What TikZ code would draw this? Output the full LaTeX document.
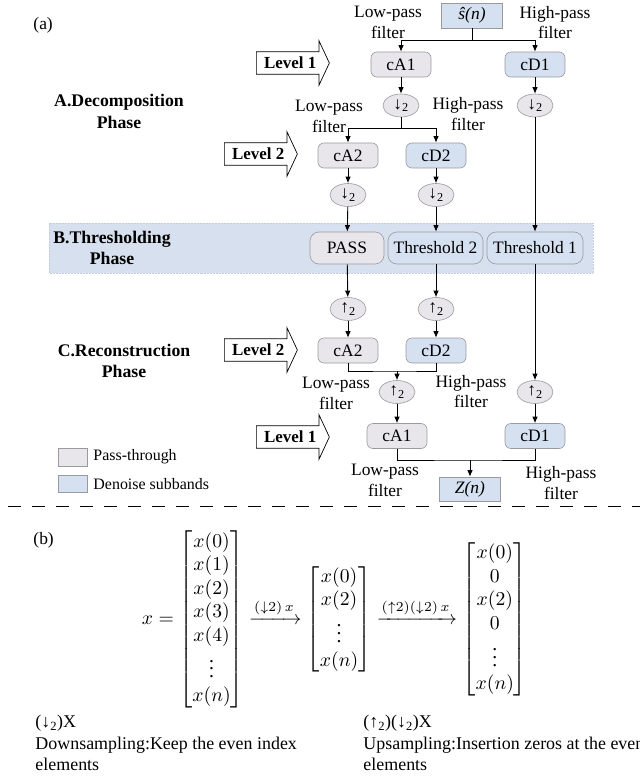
\documentclass[tikz,border=0pt]{standalone}
\usepackage{amsmath}
\usepackage{fontspec}
\setmainfont{Liberation Serif}
\usetikzlibrary{arrows.meta}
\usetikzlibrary{shapes}

\definecolor{passGrey}{HTML}{E8E6EB}
\definecolor{denoiseBlue}{HTML}{D5E0F0}
\definecolor{bandBlue}{HTML}{D6E0EE}
\definecolor{edgeGrey}{HTML}{9A9A9E}

\begin{document}
\begin{tikzpicture}[x=1bp, y=-1bp, font=\fontsize{17.5}{21}\selectfont, >={Latex[length=6.5bp,width=5.5bp]}, line width=0.9bp]
	\tikzstyle{passStyle}=[shape=rectangle, rounded corners=6bp, draw=edgeGrey, fill=passGrey, line width=0.6bp, minimum width=60bp, minimum height=25bp, inner sep=0pt]
	\tikzstyle{denoiseStyle}=[passStyle, fill=denoiseBlue]
	\tikzstyle{thresholdStyle}=[passStyle, rounded corners=9bp, minimum height=32bp]
	\tikzstyle{signalStyle}=[passStyle, sharp corners, fill=denoiseBlue, minimum width=61bp, minimum height=25bp]
	\tikzstyle{sampleStyle}=[shape=ellipse, draw=edgeGrey, fill=passGrey, line width=0.6bp, minimum width=36bp, minimum height=23bp, inner sep=0pt]
	\tikzstyle{levelStyle}=[shape=single arrow, draw, fill=white, line width=0.7bp, anchor=tail, font=\bfseries\fontsize{17}{20}\selectfont, minimum height=73bp, single arrow head extend=11bp, single arrow tip angle=130, inner xsep=2bp, inner ysep=5bp]
	\tikzstyle{filterStyle}=[align=center, inner sep=0pt]
	\tikzstyle{phaseStyle}=[align=center, inner sep=0pt, font=\bfseries\fontsize{17.8}{21.5}\selectfont]
	\tikzstyle{keyStyle}=[anchor=west, inner sep=0pt, font=\fontsize{16}{19}\selectfont]
	\tikzstyle{noteStyle}=[anchor=north west, align=left, inner sep=0pt, font=\fontsize{18}{21.5}\selectfont]
	\useasboundingbox (0,0) rectangle (640,776);
	\fill[bandBlue] (49,223) rectangle (593,273);
	\draw[line width=0.5bp, draw=bandBlue!80!gray, densely dotted] (49,223) rectangle (593,273);
	\node[anchor=west, inner sep=0pt] (tagA) at (33,25) {(a)};
	\node[signalStyle] (sIn) at (472,15.5) {\textit{ŝ(n)}};
	\node[filterStyle] (lowA) at (388,22.5) {Low-pass\\filter};
	\node[filterStyle] (highA) at (555,22.5) {High-pass\\filter};
	\node[levelStyle] (levA) at (256,63) {Level 1};
	\node[passStyle] (dA1) at (401,64.5) {cA1};
	\node[denoiseStyle] (dD1) at (535,64.5) {cD1};
	\node[phaseStyle] (phaseA) at (119,111.5) {A.Decomposition\\Phase};
	\node[sampleStyle] (dn1) at (401,105.5) {↓\textsubscript{2}};
	\node[sampleStyle] (dn2) at (535,105.5) {↓\textsubscript{2}};
	\node[filterStyle] (lowB) at (329,116) {Low-pass\\filter};
	\node[filterStyle] (highB) at (468,114) {High-pass\\filter};
	\node[levelStyle] (levB) at (224,154) {Level 2};
	\node[passStyle] (dA2) at (348,155.5) {cA2};
	\node[denoiseStyle] (dD2) at (436,155.5) {cD2};
	\node[sampleStyle] (dn3) at (348,195) {↓\textsubscript{2}};
	\node[sampleStyle] (dn4) at (436,195) {↓\textsubscript{2}};
	\node[phaseStyle] (phaseB) at (112,248) {B.Thresholding\\Phase};
	\node[thresholdStyle, minimum width=74bp] (pass) at (347,248) {PASS};
	\node[thresholdStyle, fill=denoiseBlue, minimum width=95bp] (thr2) at (435.5,248) {Threshold 2};
	\node[thresholdStyle, fill=denoiseBlue, minimum width=96bp] (thr1) at (535,248) {Threshold 1};
	\node[sampleStyle] (up1) at (348,309) {↑\textsubscript{2}};
	\node[sampleStyle] (up2) at (436,309) {↑\textsubscript{2}};
	\node[phaseStyle] (phaseC) at (124,361) {C.Reconstruction\\Phase};
	\node[levelStyle] (levC) at (224,350) {Level 2};
	\node[passStyle] (rA2) at (348,350.5) {cA2};
	\node[denoiseStyle] (rD2) at (436,350.5) {cD2};
	\node[filterStyle] (lowC) at (336,393.5) {Low-pass\\filter};
	\node[filterStyle] (highC) at (471,391.5) {High-pass\\filter};
	\node[sampleStyle] (up3) at (397,392) {↑\textsubscript{2}};
	\node[sampleStyle] (up4) at (535,392) {↑\textsubscript{2}};
	\node[levelStyle] (levD) at (256,437) {Level 1};
	\node[passStyle] (rA1) at (397,436) {cA1};
	\node[denoiseStyle] (rD1) at (535,436) {cD1};
	\node[filterStyle] (lowD) at (385,480.5) {Low-pass\\filter};
	\node[filterStyle] (highD) at (561,483) {High-pass\\filter};
	\node[signalStyle, minimum height=24bp] (zOut) at (470,489) {\textit{Z(n)}};
	\node[passStyle, sharp corners, minimum width=29bp, minimum height=18bp] (keyPass) at (72.5,457) {};
	\node[keyStyle] (keyPassText) at (93,457) {Pass-through};
	\node[denoiseStyle, sharp corners, minimum width=29bp, minimum height=17bp] (keyDen) at (72.5,483.5) {};
	\node[keyStyle] (keyDenText) at (93,484) {Denoise subbands};
	\coordinate (j1) at (472,40);
	\coordinate (j2) at (401,128);
	\coordinate (j3) at (397,371);
	\coordinate (j4) at (470,460);
	\draw (sIn.south) -- (j1);
	\draw[->] (j1) -| (dA1.north);
	\draw[->] (j1) -| (dD1.north);
	\draw[->] (dA1) -- (dn1);
	\draw[->] (dD1) -- (dn2);
	\draw (dn1.south) -- (j2);
	\draw[->] (j2) -| (dA2.north);
	\draw[->] (j2) -| (dD2.north);
	\draw[->] (dA2) -- (dn3);
	\draw[->] (dD2) -- (dn4);
	\draw[->] (dn3) -- (pass);
	\draw[->] (dn4) -- (thr2.north-|dn4);
	\draw[->] (dn2) -- (thr1);
	\draw[->] (pass) -- (up1);
	\draw[->] (thr2.south-|up2) -- (up2);
	\draw[->] (up1) -- (rA2);
	\draw[->] (up2) -- (rD2);
	\draw (rA2.south) |- (j3) -| (rD2.south);
	\draw[->] (j3) -- (up3.north);
	\draw[->] (thr1) -- (up4);
	\draw[->] (up3) -- (rA1);
	\draw[->] (up4) -- (rD1);
	\draw (rA1.south) |- (j4) -| (rD1.south);
	\draw[->] (j4) -- (zOut.north);
	\draw[dash pattern=on 13bp off 11bp, line width=0.8bp] (8,506) -- (640,506);
	\node[anchor=west, inner sep=0pt] (tagB) at (33,540) {(b)};
	\node[inner sep=0pt, scale=1.97, font=\fontsize{10}{12}\selectfont] (eqB) at (334.5,619.5) {$x = \begin{bmatrix} x(0)\\ x(1)\\ x(2)\\ x(3)\\ x(4)\\ \vdots\\ x(n) \end{bmatrix} \xrightarrow{(\downarrow 2)\,x} \begin{bmatrix} x(0)\\ x(2)\\ \vdots\\ x(n) \end{bmatrix} \xrightarrow{(\uparrow 2)(\downarrow 2)\,x} \begin{bmatrix} x(0)\\ 0\\ x(2)\\ 0\\ \vdots\\ x(n) \end{bmatrix}$};
	\node[noteStyle] (noteDown) at (35,715) {(↓\textsubscript{2})X\\Downsampling:Keep the even index\\elements};
	\node[noteStyle] (noteUp) at (363,715) {(↑\textsubscript{2})(↓\textsubscript{2})X\\Upsampling:Insertion zeros at the even\\elements};
\end{tikzpicture}
\end{document}
